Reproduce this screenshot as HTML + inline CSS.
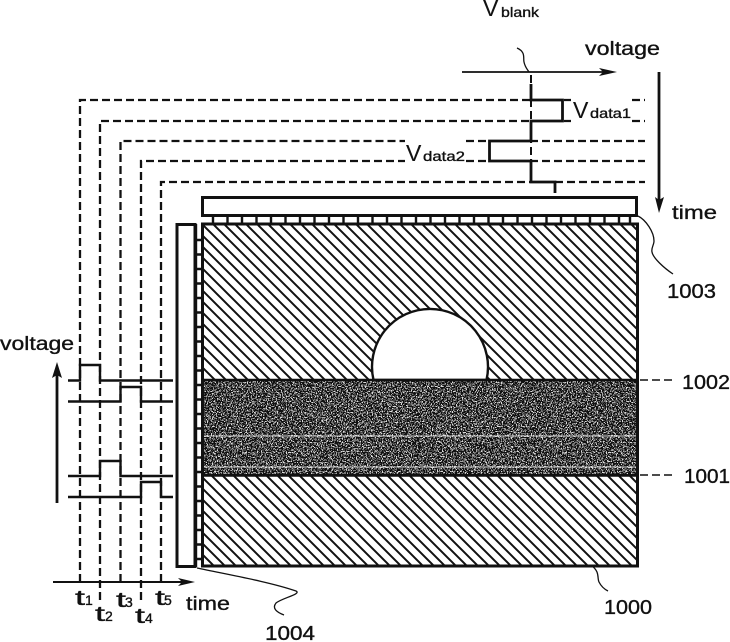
<!DOCTYPE html>
<html><head><meta charset="utf-8"><style>
html,body{margin:0;padding:0;background:#fff}
svg{display:block}
text{font-family:"Liberation Sans",sans-serif;fill:#111;stroke:#111;stroke-width:.35}
</style></head><body>
<svg width="730" height="642" viewBox="0 0 730 642" xmlns="http://www.w3.org/2000/svg">
<defs>
<pattern id="h" width="11" height="11" patternUnits="userSpaceOnUse">
<path d="M-2 -2L13 13M-2 9L2 13M9 -2L13 2" stroke="#111" stroke-width="2"/>
</pattern>
<filter id="n" x="0" y="0" width="100%" height="100%">
<feTurbulence type="fractalNoise" baseFrequency="0.8" numOctaves="2" seed="4"/>
<feColorMatrix values="0 0 0 0 0 0 0 0 0 0 0 0 0 0 0 1.2 1.2 0 0 -0.8"/>
<feComponentTransfer><feFuncA type="discrete" tableValues="0 0 1 1"/></feComponentTransfer>
<feColorMatrix values="0 0 0 0 1 0 0 0 0 1 0 0 0 0 1 0 0 0 1 0"/>
</filter>
</defs>
<rect width="730" height="642" fill="#fff"/>

<!-- main block -->
<rect x="203" y="224" width="434" height="342" fill="url(#h)"/>
<rect x="203" y="380" width="434" height="95" fill="#111"/>
<rect x="203" y="381" width="434" height="93" filter="url(#n)" opacity=".85"/>
<path d="M203 436H637M203 467H637" stroke="#ddd" stroke-width="1"/>
<path d="M373.500 380A58 58 0 1 1 486.500 380Z" fill="#fff" stroke="#111" stroke-width="2.400"/>
<path d="M203 380H638M203 475.500H638" stroke="#111" stroke-width="2.400"/>
<rect x="202.500" y="224" width="435" height="342" fill="none" stroke="#111" stroke-width="3"/>

<!-- top bar and ticks -->
<rect x="202.500" y="197.500" width="434" height="18" fill="#fff" stroke="#111" stroke-width="3"/>
<path d="M213 215V224M227.500 215V224M242 215V224M256.500 215V224M271 215V224M285.500 215V224M300 215V224M314.500 215V224M329 215V224M343.500 215V224M358 215V224M372.500 215V224M387 215V224M401.500 215V224M416 215V224M430.500 215V224M445 215V224M459.500 215V224M474 215V224M488.500 215V224M503 215V224M517.500 215V224M532 215V224M546.500 215V224M561 215V224M575.500 215V224M590 215V224M604.500 215V224M619 215V224M630 215V224" stroke="#111" stroke-width="2.400"/>

<!-- left bar and ticks -->
<rect x="177" y="224.500" width="18" height="342" fill="#fff" stroke="#111" stroke-width="3"/>
<path d="M196 224V567" stroke="#111" stroke-width="2.400"/>
<path d="M196 240H203M196 254.500H203M196 269H203M196 283.500H203M196 298H203M196 312.500H203M196 327H203M196 341.500H203M196 356H203M196 370.500H203M196 385H203M196 399.500H203M196 414H203M196 428.500H203M196 443H203M196 457.500H203M196 472H203M196 486.500H203M196 501H203M196 515.500H203M196 530H203M196 544.500H203M196 559H203" stroke="#111" stroke-width="2.400"/>

<!-- dashed guide lines -->
<g fill="none" stroke="#111" stroke-width="2.300" stroke-dasharray="8 4">
<path d="M80 582V100H530"/>
<path d="M100 600V121H530"/>
<path d="M120.500 582V141H405"/>
<path d="M141 600V161H405"/>
<path d="M161 582V182H530"/>
<path d="M466 141H489M466 161H489"/>
<path d="M530 141H645M530 161H645M555 182H645"/>
<path d="M564 100H571M564 121H571M632 100H645M632 121H645"/>
</g>

<!-- axis, voltage waveform -->
<path d="M531 75V180" fill="none" stroke="#111" stroke-width="2" stroke-dasharray="8 4"/>
<path d="M531 84V100H562.500V121H531V141H489.500V161H531V182H555V193" fill="none" stroke="#111" stroke-width="2.800"/>
<path d="M462 72H607" stroke="#111" stroke-width="1.800"/>
<path d="M599 68L617 72L599 76L603 72Z" fill="#111"/>
<path d="M659 72V205" stroke="#111" stroke-width="2.800"/>
<path d="M655 197L659 213L664 197L659 200Z" fill="#111"/>

<!-- left waveforms -->
<g fill="none" stroke="#111" stroke-width="2.400">
<path d="M68 380.500H80V365H100V380.500H173"/>
<path d="M68 401.500H120.500V387H141V401.500H173"/>
<path d="M68 476H100V461H120.500V476H173"/>
<path d="M68 497H141V482H161V497H173"/>
</g>
<path d="M57 503V372" stroke="#111" stroke-width="2.800"/>
<path d="M52 378L57 362L62 378L57 375Z" fill="#111"/>
<path d="M53 582H186" stroke="#111" stroke-width="2"/>
<path d="M178 578L195 582L178 586L182 582Z" fill="#111"/>

<!-- leaders -->
<g fill="none" stroke="#111" stroke-width="1.300">
<path d="M517 48C526 52 523 58 524 62C525 67 527 69 529 72"/>
<path d="M638 216C646 220 654 232 654 241C654 245 651 248 652 252C653 258 664 268 673 274"/>
<path d="M592 566C600 572 597 578 599 582C601 586 604 589 608 591"/>
<path d="M197 568C230 575 270 582 296 591C302 594 282 598 276 603C272 608 276 612 284 615"/>
</g>
<path d="M640 380H673M640 475H673" fill="none" stroke="#111" stroke-width="1.500" stroke-dasharray="8 4"/>

<!-- labels -->
<text x="483" y="16" font-size="23" style="stroke-width:.1">V</text><text x="501" y="17" font-size="14" textLength="38" lengthAdjust="spacingAndGlyphs">blank</text>
<text x="585" y="55" font-size="19" textLength="75" lengthAdjust="spacingAndGlyphs">voltage</text>
<text x="672" y="219" font-size="19" textLength="45" lengthAdjust="spacingAndGlyphs">time</text>
<text x="573" y="118" font-size="23" style="stroke-width:.1">V</text><text x="590" y="118" font-size="14" textLength="41" lengthAdjust="spacingAndGlyphs">data1</text>
<text x="406" y="161" font-size="23" style="stroke-width:.1">V</text><text x="423" y="161" font-size="14" textLength="42" lengthAdjust="spacingAndGlyphs">data2</text>
<text x="667" y="298" font-size="20" textLength="49" lengthAdjust="spacingAndGlyphs">1003</text>
<text x="682" y="389" font-size="20" textLength="48" lengthAdjust="spacingAndGlyphs">1002</text>
<text x="684" y="483" font-size="20" textLength="46" lengthAdjust="spacingAndGlyphs">1001</text>
<text x="604" y="614" font-size="20" textLength="48" lengthAdjust="spacingAndGlyphs">1000</text>
<text x="265" y="640" font-size="20" textLength="50" lengthAdjust="spacingAndGlyphs">1004</text>
<text x="0" y="350" font-size="19" textLength="74" lengthAdjust="spacingAndGlyphs">voltage</text>
<text x="186" y="610" font-size="19" textLength="44" lengthAdjust="spacingAndGlyphs">time</text>
<text x="75" y="605" font-size="21" textLength="10" lengthAdjust="spacingAndGlyphs">t</text><text x="85" y="605" font-size="14">1</text>
<text x="95" y="621" font-size="21" textLength="10" lengthAdjust="spacingAndGlyphs">t</text><text x="105" y="621" font-size="14">2</text>
<text x="116" y="607" font-size="21" textLength="10" lengthAdjust="spacingAndGlyphs">t</text><text x="125" y="607" font-size="14">3</text>
<text x="135" y="623" font-size="21" textLength="10" lengthAdjust="spacingAndGlyphs">t</text><text x="145" y="623" font-size="14">4</text>
<text x="155" y="605" font-size="21" textLength="10" lengthAdjust="spacingAndGlyphs">t</text><text x="164" y="605" font-size="14">5</text>
</svg>
</body></html>
